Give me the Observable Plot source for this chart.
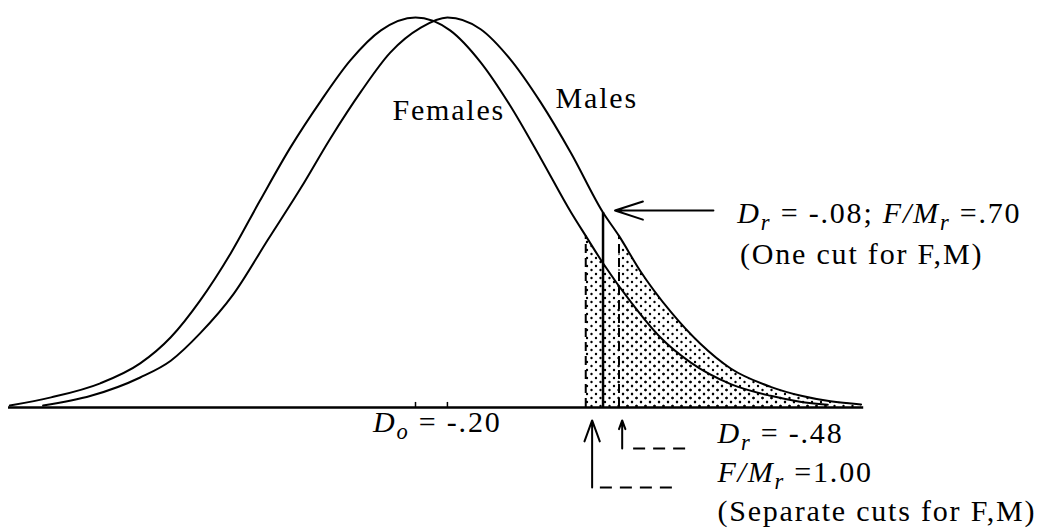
<!DOCTYPE html>
<html>
<head>
<meta charset="utf-8">
<script src="https://cdn.jsdelivr.net/npm/d3@7"></script>
<script src="https://cdn.jsdelivr.net/npm/@observablehq/plot@0.6"></script>
<style>
  html, body { margin: 0; padding: 0; background: #fff; }
  svg { display: block; }
</style>
</head>
<body>
<div id="chart"></div>
<script>
// Standard-score positions (female SD units, female mean = 0) and relative heights (peak = 1)
const femaleX = [-3.05,-2.74,-2.37,-2.07,-1.84,-1.62,-1.39,-1.17,-0.94,-0.71,-0.49,-0.26,0,0.26,0.49,0.71,0.94,1.17,1.28,1.41,1.62,1.84,2.07,2.37,2.67,2.89,3.10];
const femaleH = [0.005,0.026,0.062,0.113,0.18,0.274,0.395,0.53,0.667,0.787,0.89,0.967,1,0.967,0.885,0.775,0.64,0.50,0.44,0.37,0.27,0.18,0.115,0.06,0.03,0.015,0.007];
const maleX = [-2.80,-2.44,-2.07,-1.84,-1.62,-1.37,-1.11,-0.86,-0.64,-0.41,-0.19,0.04,0.24,0.49,0.71,0.94,1.17,1.41,1.53,1.69,1.92,2.14,2.37,2.67,2.90,3.12,3.35];
const maleH = [0.005,0.03,0.077,0.12,0.19,0.29,0.43,0.564,0.69,0.81,0.91,0.974,1,0.97,0.894,0.783,0.652,0.50,0.44,0.35,0.245,0.164,0.10,0.053,0.03,0.016,0.008];

const groupMeans = [0, 0.24];          // Females, Males
const cutFemale = 1.28;                 // separate cut, females
const cutOne = 1.41;                    // one cut for F, M
const cutMale = 1.53;                   // separate cut, males

const labels = [
  "Females",
  "Males",
  "{i:D}{s:r} = -.08; {i:F/M}{s:r} =.70",
  "(One cut for F,M)",
  "{i:D}{s:o} = -.20",
  "{i:D}{s:r} = -.48",
  "{i:F/M}{s:r} =1.00",
  "(Separate cuts for F,M)"
];

const females = femaleX.map((x, i) => ({x, h: femaleH[i]}));
const males = maleX.map((x, i) => ({x, h: maleH[i]}));
const hAt = (arr, x) => arr.find(d => d.x === x).h;
const femaleTail = females.filter(d => d.x >= cutFemale);
const maleTail = males.filter(d => d.x >= cutMale);

const font = "Liberation Serif, Times New Roman, serif";
const annPos = [
  [-0.173, 0.736], [1.053, 0.769],
  [2.42, 0.474], [2.44, 0.369],
  [-0.32, -0.062], [2.27, -0.092], [2.27, -0.190], [2.27, -0.290]
];

const svg = Plot.plot({
  width: 1056,
  height: 529,
  marginTop: 0, marginBottom: 0, marginLeft: 0, marginRight: 0,
  x: {domain: [-3.1203, 4.8195], axis: null},
  y: {domain: [-0.3128, 1.0436], axis: null},
  marks: [
    Plot.areaY(femaleTail, {x: "x", y: "h", fill: "url(#dots)", curve: "monotone-x"}),
    Plot.areaY(maleTail, {x: "x", y: "h", fill: "url(#dots)", curve: "monotone-x"}),
    Plot.line(females, {x: "x", y: "h", stroke: "#000", strokeWidth: 2, curve: "monotone-x"}),
    Plot.line(males, {x: "x", y: "h", stroke: "#000", strokeWidth: 2, curve: "monotone-x"}),
    Plot.ruleY([0], {x1: -3.06, x2: 3.37, stroke: "#000", strokeWidth: 2.5}),
    Plot.ruleX(groupMeans, {y1: 0, y2: 0.013, stroke: "#000", strokeWidth: 1.5}),
    Plot.ruleX([cutFemale], {y1: 0, y2: hAt(females, cutFemale), stroke: "#000", strokeWidth: 2, strokeDasharray: "9,5"}),
    Plot.ruleX([cutMale], {y1: 0, y2: hAt(males, cutMale), stroke: "#000", strokeWidth: 2, strokeDasharray: "9,5"}),
    Plot.ruleX([cutOne], {y1: 0, y2: hAt(males, cutOne), stroke: "#000", strokeWidth: 2.5}),
    Plot.arrow([0], {x1: 2.24, y1: 0.505, x2: 1.50, y2: 0.505, stroke: "#000", strokeWidth: 2, headLength: 22, headAngle: 36}),
    Plot.arrow([0], {x1: 1.328, y1: -0.205, x2: 1.328, y2: -0.033, stroke: "#000", strokeWidth: 2, headLength: 18, headAngle: 40}),
    Plot.arrow([0], {x1: 1.554, y1: -0.105, x2: 1.554, y2: -0.033, stroke: "#000", strokeWidth: 2, headLength: 18, headAngle: 40}),
    Plot.ruleY([-0.105], {x1: 1.64, x2: 2.09, stroke: "#000", strokeWidth: 2, strokeDasharray: "12,8"}),
    Plot.ruleY([-0.205], {x1: 1.39, x2: 1.99, stroke: "#000", strokeWidth: 2, strokeDasharray: "12,8"}),
    Plot.text(labels, {
      x: (d, i) => annPos[i][0],
      y: (d, i) => annPos[i][1],
      text: d => d,
      textAnchor: "start",
      lineAnchor: "bottom",
      fontSize: 30,
      fontFamily: font,
      fill: "#000"
    })
  ]
});

// dotted shading pattern
const defs = d3.select(svg).insert("defs", ":first-child");
const pat = defs.append("pattern")
  .attr("id", "dots").attr("patternUnits", "userSpaceOnUse")
  .attr("width", 9).attr("height", 8);
pat.append("circle").attr("cx", 2).attr("cy", 2).attr("r", 1.2).attr("fill", "#000");
pat.append("circle").attr("cx", 6.5).attr("cy", 6).attr("r", 1.2).attr("fill", "#000");

// italic / subscript rendering of the label markup
d3.select(svg).selectAll("text").attr("letter-spacing", "1.8px").each(function() {
  const s = this.textContent;
  if (!s.includes("{")) return;
  const sel = d3.select(this);
  sel.text(null);
  let shift = 0;
  for (const m of s.matchAll(/\{(i|s):([^}]*)\}|([^{]+)/g)) {
    const t = sel.append("tspan");
    if (m[1] === "i") {
      t.attr("font-style", "italic").text(m[2]);
    } else if (m[1] === "s") {
      t.attr("font-style", "italic").attr("font-size", "0.75em").attr("dy", 7 - shift).text(m[2]);
      shift = 7;
    } else {
      if (shift) { t.attr("dy", -shift); shift = 0; }
      t.text(m[3]);
    }
  }
});

document.getElementById("chart").appendChild(svg);
</script>
</body>
</html>
